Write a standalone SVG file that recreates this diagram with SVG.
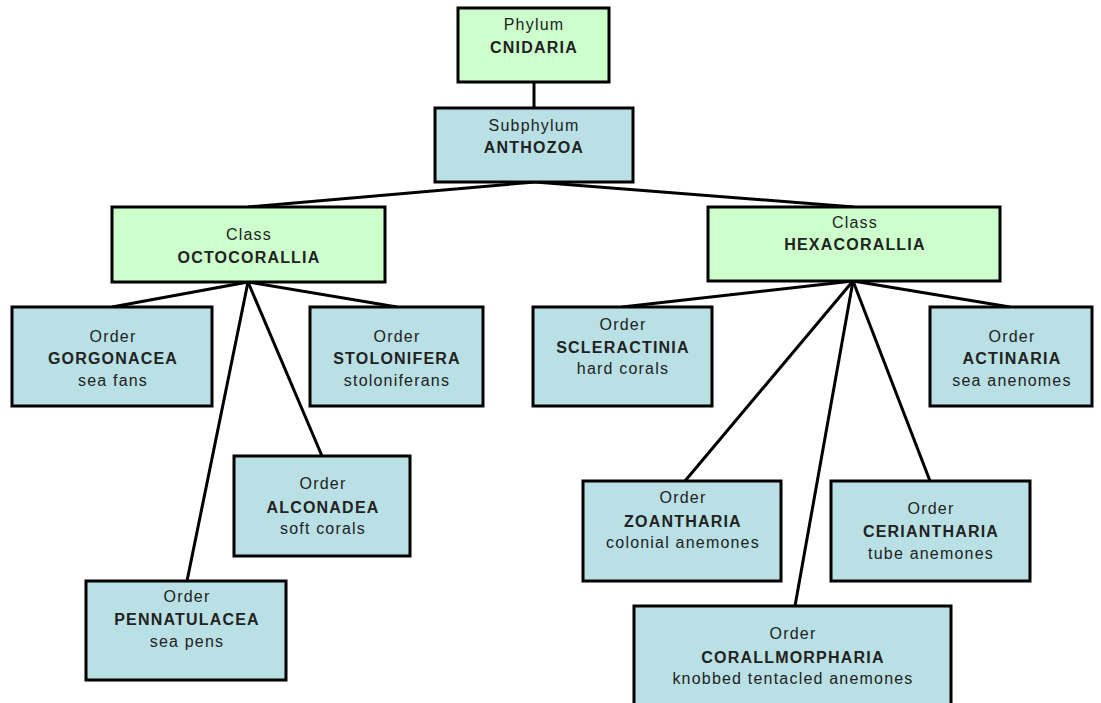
<svg xmlns="http://www.w3.org/2000/svg" width="1101" height="703" viewBox="0 0 1101 703">
<style>
.g{fill:#ccffcc;stroke:#000;stroke-width:3}
.b{fill:#b9e0e4;stroke:#000;stroke-width:3}
text{font-family:"Liberation Sans",Arial,sans-serif;font-size:16px;fill:#222;text-anchor:middle;letter-spacing:1.2px}
.n{font-weight:bold}
.c line{stroke:#000;stroke-width:3}
</style>
<rect width="1101" height="703" fill="#fff"/>
<g class="c" id="connectors">
<line x1="534" y1="83" x2="534" y2="108"/>
<line x1="535" y1="182" x2="248" y2="207"/>
<line x1="535" y1="182" x2="854" y2="207"/>
<line x1="248" y1="282" x2="112" y2="307"/>
<line x1="248" y1="282" x2="397" y2="307"/>
<line x1="248" y1="282" x2="322" y2="456"/>
<line x1="248" y1="282" x2="187" y2="581"/>
<line x1="853" y1="281" x2="622" y2="307"/>
<line x1="853" y1="281" x2="1010" y2="307"/>
<line x1="853" y1="281" x2="685" y2="481"/>
<line x1="853" y1="281" x2="930" y2="481"/>
<line x1="853" y1="281" x2="795" y2="606"/>
</g>
<g id="cnidaria"><rect class="g" x="458" y="8" width="151" height="74"/><text x="534" y="30">Phylum</text><text class="n" x="534" y="53">CNIDARIA</text></g>
<g id="anthozoa"><rect class="b" x="435" y="108" width="198" height="74"/><text x="534" y="131">Subphylum</text><text class="n" x="534" y="153">ANTHOZOA</text></g>
<g id="octocorallia"><rect class="g" x="112" y="207" width="273" height="75"/><text x="249" y="240">Class</text><text class="n" x="249" y="263">OCTOCORALLIA</text></g>
<g id="hexacorallia"><rect class="g" x="708" y="207" width="292" height="74"/><text x="855" y="228">Class</text><text class="n" x="855" y="250">HEXACORALLIA</text></g>
<g id="gorgonacea"><rect class="b" x="12" y="307" width="200" height="99"/><text x="113" y="342">Order</text><text class="n" x="113" y="364">GORGONACEA</text><text x="113" y="386">sea fans</text></g>
<g id="stolonifera"><rect class="b" x="310" y="307" width="173" height="99"/><text x="397" y="342">Order</text><text class="n" x="397" y="364">STOLONIFERA</text><text x="397" y="386">stoloniferans</text></g>
<g id="scleractinia"><rect class="b" x="533" y="307" width="179" height="99"/><text x="623" y="330">Order</text><text class="n" x="623" y="353">SCLERACTINIA</text><text x="623" y="374">hard corals</text></g>
<g id="actinaria"><rect class="b" x="930" y="307" width="162" height="99"/><text x="1012" y="342">Order</text><text class="n" x="1012" y="364">ACTINARIA</text><text x="1012" y="386">sea anenomes</text></g>
<g id="alconadea"><rect class="b" x="234" y="456" width="176" height="100"/><text x="323" y="489">Order</text><text class="n" x="323" y="513">ALCONADEA</text><text x="323" y="534">soft corals</text></g>
<g id="zoantharia"><rect class="b" x="583" y="481" width="198" height="100"/><text x="683" y="503">Order</text><text class="n" x="683" y="527">ZOANTHARIA</text><text x="683" y="548">colonial anemones</text></g>
<g id="ceriantharia"><rect class="b" x="831" y="481" width="199" height="100"/><text x="931" y="514">Order</text><text class="n" x="931" y="537">CERIANTHARIA</text><text x="931" y="559">tube anemones</text></g>
<g id="pennatulacea"><rect class="b" x="86" y="581" width="200" height="99"/><text x="187" y="602">Order</text><text class="n" x="187" y="625">PENNATULACEA</text><text x="187" y="647">sea pens</text></g>
<g id="corallmorpharia"><rect class="b" x="634" y="606" width="317" height="102"/><text x="793" y="639">Order</text><text class="n" x="793" y="663">CORALLMORPHARIA</text><text x="793" y="684">knobbed tentacled anemones</text></g>
</svg>
